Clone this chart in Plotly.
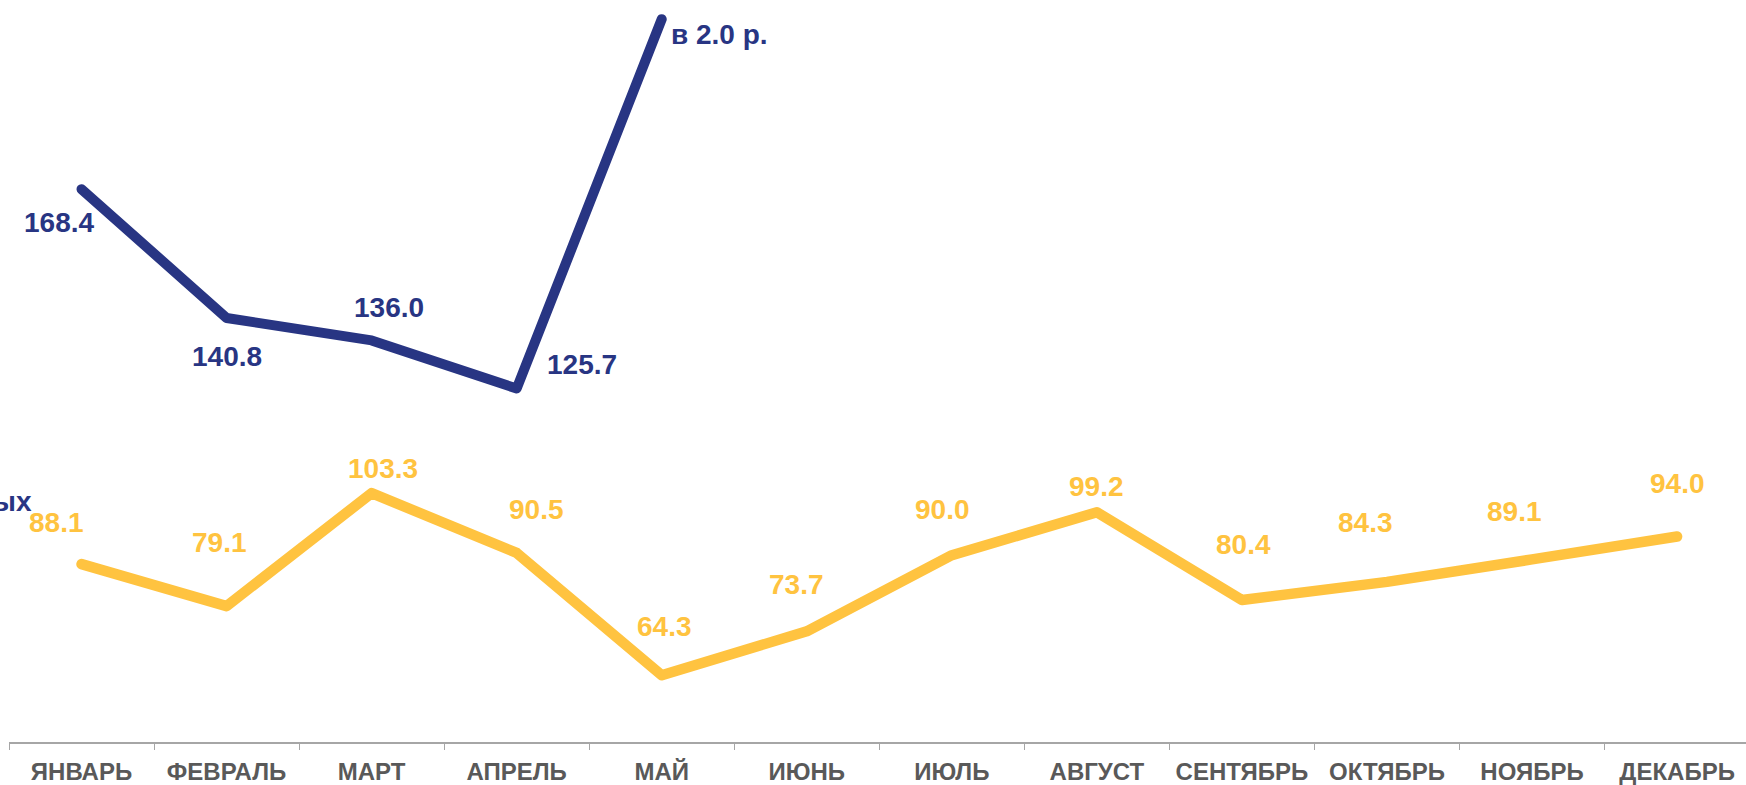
import plotly.graph_objects as go

months = ["ЯНВАРЬ", "ФЕВРАЛЬ", "МАРТ", "АПРЕЛЬ", "МАЙ", "ИЮНЬ", "ИЮЛЬ",
          "АВГУСТ", "СЕНТЯБРЬ", "ОКТЯБРЬ", "НОЯБРЬ", "ДЕКАБРЬ"]
yellow_vals = [88.1, 79.1, 103.3, 90.5, 64.3, 73.7, 90.0, 99.2, 80.4, 84.3, 89.1, 94.0]
blue_vals = [168.4, 140.8, 136.0, 125.7, 204.8]
blue_labels = ["168.4", "140.8", "136.0", "125.7", "в 2.0 р."]
yellow_labels = ["88.1", "79.1", "103.3", "90.5", "64.3", "73.7", "90.0",
                 "99.2", "80.4", "84.3", "89.1", "94.0"]

BLUE = "#283583"
YELLOW = "#FFC340"
GRAY = "#595959"
FONT = "Liberation Sans, Arial, sans-serif"

# label pixel offsets (dx, dy) relative to the point (dy positive = down)
blue_off = [(-23, 33), (0, 38), (17, -33), (65, -24), (7, 15)]
yellow_off = [(-25, -42), (-7, -64), (11, -25), (20, -43), (3, -49), (-10, -47),
              (-9, -46), (0, -26), (2, -56), (-22, -59), (-18, -48), (0, -53)]

fig = go.Figure()
fig.add_trace(go.Scatter(x=months, y=yellow_vals, mode="lines",
                         line=dict(color=YELLOW, width=10.5), hoverinfo="skip"))
fig.add_trace(go.Scatter(x=months[:len(blue_vals)], y=blue_vals, mode="lines",
                         line=dict(color=BLUE, width=10), hoverinfo="skip"))

ann = []
for i, (v, t) in enumerate(zip(yellow_vals, yellow_labels)):
    dx, dy = yellow_off[i]
    ann.append(dict(x=months[i], y=v, text=t, showarrow=False, xshift=dx, yshift=-dy,
                    font=dict(family=FONT, size=28, color=YELLOW, weight="bold")))
for i, (v, t) in enumerate(zip(blue_vals, blue_labels)):
    dx, dy = blue_off[i]
    a = dict(x=months[i], y=v, text=t, showarrow=False, xshift=dx, yshift=-dy,
             font=dict(family=FONT, size=28, color=BLUE, weight="bold"))
    if i == len(blue_vals) - 1:
        a["xanchor"] = "left"
    ann.append(a)

plot_w = 1746 - 9
plot_h = 744
ann.append(dict(x=(34 - 9) / plot_w, y=(744 - 503) / plot_h, xref="paper", yref="paper",
                text="ых", showarrow=False, xanchor="right", yanchor="middle",
                font=dict(family=FONT, size=28, color=BLUE, weight="bold")))

fig.update_layout(
    width=1746, height=785,
    margin=dict(l=9, r=0, t=0, b=41),
    paper_bgcolor="white", plot_bgcolor="white",
    showlegend=False,
    annotations=ann,
    xaxis=dict(type="category", range=[-0.5, 11.475], showgrid=False, zeroline=False,
               showline=True, linecolor="#A6A6A6", linewidth=2,
               ticks="outside", ticklen=6, tickcolor="#A6A6A6", tickwidth=1,
               tickson="boundaries", ticklabelstandoff=7,
               tickfont=dict(family=FONT, size=24, color=GRAY, weight="bold")),
    yaxis=dict(range=[50, 50 + plot_h / 4.682], visible=False, showgrid=False, zeroline=False),
)

post = """
document.body.style.margin='0';
document.body.style.overflow='hidden';
document.querySelectorAll('.scatterlayer path.js-line').forEach(function(p){
  p.style.strokeLinecap='round'; p.style.strokeLinejoin='round';
});
"""
fig.write_html("out.html", post_script=post, config={"displayModeBar": False})
